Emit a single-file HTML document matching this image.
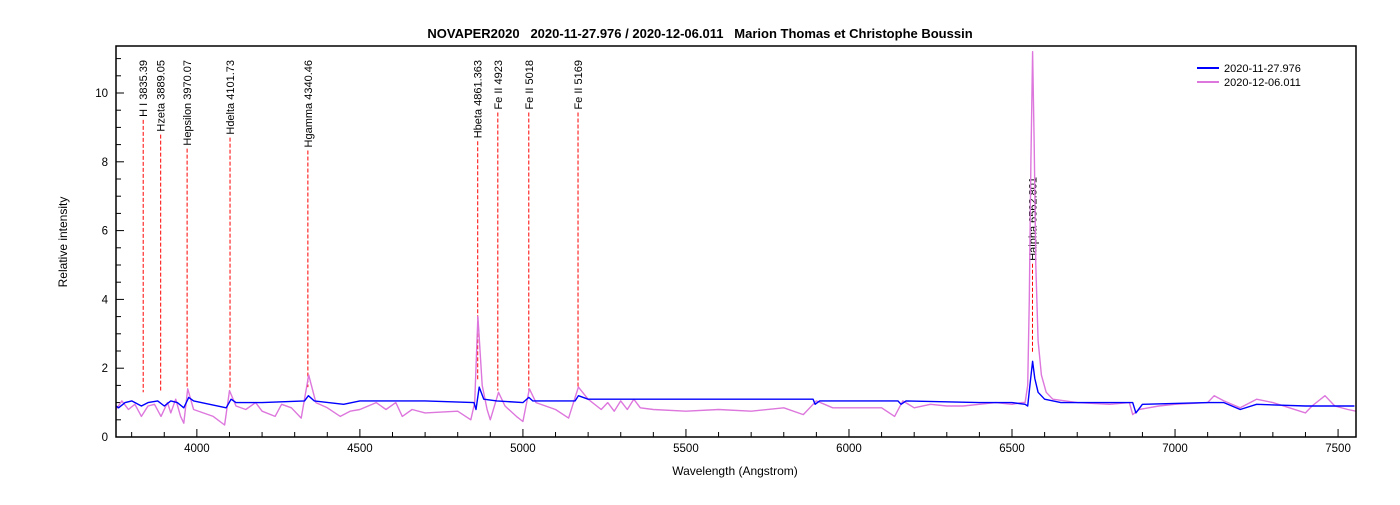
<!DOCTYPE html>
<html><head><meta charset="utf-8"><style>
body{margin:0;background:#fff;font-family:"Liberation Sans",Arial,sans-serif}
svg text{font-family:"Liberation Sans",Arial,sans-serif}
</style></head><body>
<svg id="chart" width="1400" height="500">
<rect width="1400" height="500" fill="#fff"/>
<text x="700" y="38" text-anchor="middle" font-size="13" font-weight="bold" style="white-space:pre" xml:space="preserve">NOVAPER2020   2020-11-27.976 / 2020-12-06.011   Marion Thomas et Christophe Boussin</text>
<g id="grid"></g>
<g id="lines"></g>
<g id="series"></g>
<rect x="116" y="46" width="1240" height="391" fill="none" stroke="#000" stroke-width="1.5"/>
<text x="735" y="475" text-anchor="middle" font-size="12">Wavelength (Angstrom)</text>
<text transform="translate(67,242) rotate(-90)" text-anchor="middle" font-size="12">Relative intensity</text>
<g>
<line x1="1197" y1="68" x2="1219" y2="68" stroke="#0000ff" stroke-width="2"/>
<text x="1224" y="72" font-size="11">2020-11-27.976</text>
<line x1="1197" y1="82" x2="1219" y2="82" stroke="#dd77dd" stroke-width="2"/>
<text x="1224" y="86" font-size="11">2020-12-06.011</text>
</g>
</svg>
<script>
const xTicks=[4000,4500,5000,5500,6000,6500,7000,7500];
const yTicks=[0,2,4,6,8,10];
const lineNames=["H I 3835.39","Hzeta 3889.05","Hepsilon 3970.07","Hdelta 4101.73","Hgamma 4340.46","Hbeta 4861.363","Fe II 4923","Fe II 5018","Fe II 5169","Halpha 6562.801"];
const lineWaves=[3835.39,3889.05,3970.07,4101.73,4340.46,4861.363,4923,5018,5169,6562.801];
const lineBottoms=[1.3,1.35,1.45,1.4,1.45,1.65,1.35,1.35,1.4,2.45];
const waveB=[3752,3760,3780,3800,3830,3850,3880,3900,3920,3940,3960,3975,3990,4090,4105,4120,4200,4330,4342,4360,4450,4500,4700,4850,4856,4866,4880,4920,5000,5018,5030,5160,5170,5200,5500,5800,5890,5896,5910,6150,6160,6175,6400,6500,6540,6548,6555,6563,6570,6580,6600,6650,6870,6880,6900,7100,7150,7200,7250,7400,7550];
const blueVals=[0.9,0.85,1.0,1.05,0.9,1.0,1.05,0.9,1.05,1.0,0.85,1.15,1.05,0.85,1.1,1.0,1.0,1.05,1.2,1.05,0.95,1.05,1.05,1.0,0.8,1.45,1.1,1.05,1.0,1.15,1.05,1.05,1.2,1.1,1.1,1.1,1.1,0.95,1.05,1.05,0.95,1.05,1.0,1.0,0.95,0.9,1.5,2.2,1.7,1.3,1.1,1.0,1.0,0.7,0.95,1.0,1.0,0.8,0.95,0.9,0.9];
const waveP=[3752,3770,3790,3810,3830,3850,3870,3890,3910,3920,3935,3950,3960,3972,3990,4050,4085,4100,4120,4150,4180,4200,4240,4260,4290,4320,4343,4365,4400,4440,4470,4500,4550,4580,4610,4630,4660,4700,4800,4840,4852,4862,4875,4890,4900,4925,4945,4980,5000,5020,5040,5100,5140,5170,5200,5240,5260,5280,5300,5320,5340,5360,5400,5500,5600,5700,5800,5860,5890,5900,5950,6100,6140,6165,6200,6250,6300,6350,6400,6450,6500,6530,6540,6548,6553,6558,6563,6568,6573,6580,6590,6605,6625,6700,6800,6860,6870,6890,6950,7000,7100,7120,7150,7200,7250,7300,7400,7420,7460,7490,7530,7555];
const pinkVals=[0.8,1.05,0.8,0.95,0.6,0.9,0.95,0.6,1.0,0.7,1.1,0.6,0.4,1.4,0.8,0.6,0.35,1.35,0.9,0.8,1.0,0.75,0.6,0.95,0.85,0.55,1.8,1.0,0.85,0.6,0.75,0.8,1.0,0.8,1.0,0.6,0.8,0.7,0.75,0.5,1.0,3.5,1.5,0.8,0.5,1.3,0.9,0.6,0.45,1.4,1.0,0.8,0.55,1.45,1.1,0.8,1.0,0.75,1.05,0.8,1.1,0.85,0.8,0.75,0.8,0.75,0.85,0.65,0.95,1.05,0.85,0.85,0.6,1.05,0.85,0.95,0.9,0.9,0.95,1.0,0.95,1.0,1.0,1.5,4.0,8.0,11.2,8.5,5.0,2.8,1.8,1.3,1.1,1.0,0.95,1.0,0.65,0.8,0.9,0.95,1.0,1.2,1.05,0.85,1.1,1.0,0.7,0.9,1.2,0.9,0.8,0.75];
const NS="http://www.w3.org/2000/svg";
const X0=116,X1=1356,Y0=437,Y1=46,WMIN=3752,WMAX=7555,VMAX=(437-46)/34.4;
const sx=w=>X0+(w-WMIN)/(WMAX-WMIN)*(X1-X0);
const sy=v=>Y0-v/VMAX*(Y0-Y1);
function mk(tag,attrs,parent){const e=document.createElementNS(NS,tag);for(const k in attrs)e.setAttribute(k,attrs[k]);parent.appendChild(e);return e;}
const grid=document.getElementById('grid');
for(let w=3800;w<=7500;w+=100){const x=sx(w);const major=w%500===0;
 const t=mk('line',{x1:x,x2:x,y1:Y0,y2:Y0-(major?8:5),stroke:'#000'},grid);
 
 }
xTicks.forEach(w=>{const t=mk('text',{x:sx(w),y:452,'text-anchor':'middle','font-size':'11.5'},grid);t.textContent=w;
 
 });
for(let v=0;v<=11;v+=0.5){const y=sy(v);const major=v%2===0;
 const t=mk('line',{x1:X0,x2:X0+(major?8:5),y1:y,y2:y,stroke:'#000'},grid);
 
 }
yTicks.forEach(v=>{const t=mk('text',{x:108,y:sy(v)+4,'text-anchor':'end','font-size':'11.5'},grid);t.textContent=v;
 
 });
const lg=document.getElementById('lines');
lineNames.forEach((n,i)=>{const x=sx(lineWaves[i]);const top=(i===9)?177:60;
 const t=mk('text',{transform:`translate(${x+4},${top}) rotate(-90)`,'text-anchor':'end','font-size':'11'},lg);t.textContent=n;
 
 
 const len=t.getComputedTextLength();
 const l=mk('line',{x1:x,x2:x,y1:top+len+3,y2:sy(lineBottoms[i]),stroke:'#ff0000','stroke-dasharray':'4,2'},lg);
 
 });
const sg=document.getElementById('series');
function path(ws,vs){return ws.map((w,i)=>(i?'L':'M')+sx(w).toFixed(1)+','+sy(vs[i]).toFixed(1)).join('');}
const pp=mk('path',{d:path(waveP,pinkVals),fill:'none',stroke:'#dd77dd','stroke-width':1.4,'stroke-linejoin':'round'},sg);


const bp=mk('path',{d:path(waveB,blueVals),fill:'none',stroke:'#0000ff','stroke-width':1.4,'stroke-linejoin':'round'},sg);


</script>
</body></html>
